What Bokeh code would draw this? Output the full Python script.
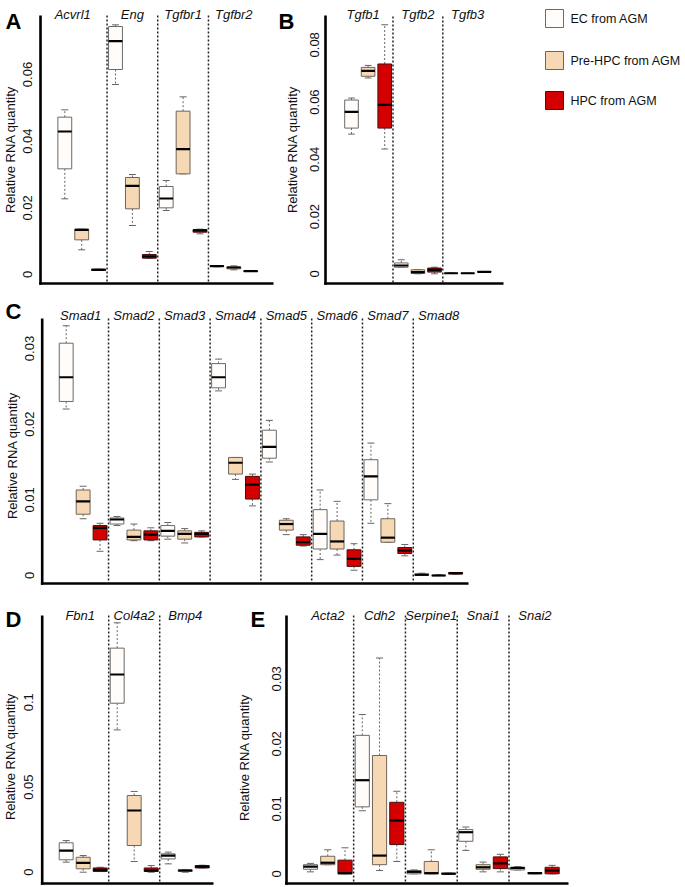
import math
from bokeh.plotting import figure
from bokeh.models import Range1d, ColumnDataSource
from bokeh.core.properties import value
from bokeh.layouts import row, column
from bokeh.embed import file_html
from bokeh.resources import INLINE

# ---------------- data ----------------
GROUPS = ["EC from AGM", "Pre-HPC from AGM", "HPC from AGM"]
Y_TITLE = "Relative RNA quantity"

# each entry: [lower whisker, Q1, median, Q3, upper whisker]
A_genes = ["Acvrl1", "Eng", "Tgfbr1", "Tgfbr2"]
A_ec = [[0.0227, 0.0317, 0.0429, 0.0472, 0.0494],
        [0.0570, 0.0615, 0.0700, 0.0744, 0.0749],
        [0.0192, 0.0200, 0.0228, 0.0264, 0.0282],
        [0.0023, 0.0024, 0.0025, 0.0026, 0.0027]]
A_pre = [[0.0074, 0.0104, 0.0134, 0.0136, 0.0136],
         [0.0147, 0.0197, 0.0266, 0.0291, 0.0300],
         [0.0302, 0.0302, 0.0376, 0.0490, 0.0533],
         [0.0014, 0.0017, 0.0021, 0.0023, 0.0026]]
A_hpc = [[0.0012, 0.0012, 0.0014, 0.0016, 0.0016],
         [0.0049, 0.0049, 0.0054, 0.0060, 0.0069],
         [0.0122, 0.0127, 0.0132, 0.0135, 0.0136],
         [0.0009, 0.0009, 0.0010, 0.0011, 0.0011]]
A_ticks = [0, 0.02, 0.04, 0.06]
A_tick_labels = ["0", "0.02", "0.04", "0.06"]

B_genes = ["Tgfb1", "Tgfb2", "Tgfb3"]
B_ec = [[0.0488, 0.0509, 0.0566, 0.0607, 0.0614],
        [0.0023, 0.0023, 0.0029, 0.0038, 0.0049],
        [0.0001, 0.0001, 0.0002, 0.0002, 0.0003]]
B_pre = [[0.0684, 0.0690, 0.0709, 0.0721, 0.0728],
         [0.0000, 0.0001, 0.0006, 0.0014, 0.0015],
         [0.0001, 0.0001, 0.0002, 0.0002, 0.0002]]
B_hpc = [[0.0436, 0.0509, 0.0590, 0.0733, 0.0870],
         [0.0000, 0.0006, 0.0014, 0.0020, 0.0023],
         [0.0006, 0.0006, 0.0007, 0.0008, 0.0008]]
B_ticks = [0, 0.02, 0.04, 0.06, 0.08]
B_tick_labels = ["0", "0.02", "0.04", "0.06", "0.08"]

C_genes = ["Smad1", "Smad2", "Smad3", "Smad4", "Smad5", "Smad6", "Smad7", "Smad8"]
C_ec = [[0.0220, 0.0230, 0.0262, 0.0307, 0.0330],
        [0.0066, 0.0068, 0.0074, 0.0076, 0.0078],
        [0.0048, 0.0052, 0.0059, 0.0066, 0.0070],
        [0.0244, 0.0248, 0.0262, 0.0280, 0.0286],
        [0.0150, 0.0155, 0.0170, 0.0192, 0.0205],
        [0.0021, 0.0035, 0.0055, 0.0087, 0.0113],
        [0.0069, 0.0100, 0.0131, 0.0153, 0.0175],
        [0.0000, 0.0000, 0.0001, 0.0002, 0.0003]]
C_pre = [[0.0075, 0.0081, 0.0098, 0.0113, 0.0118],
         [0.0046, 0.0047, 0.0051, 0.0060, 0.0068],
         [0.0043, 0.0048, 0.0055, 0.0059, 0.0062],
         [0.0127, 0.0134, 0.0149, 0.0156, 0.0156],
         [0.0054, 0.0060, 0.0068, 0.0073, 0.0075],
         [0.0027, 0.0035, 0.0045, 0.0072, 0.0098],
         [0.0044, 0.0044, 0.0050, 0.0075, 0.0095],
         [0.0000, 0.0000, 0.0000, 0.0000, 0.0001]]
C_hpc = [[0.0032, 0.0047, 0.0063, 0.0066, 0.0069],
         [0.0046, 0.0047, 0.0054, 0.0059, 0.0063],
         [0.0051, 0.0051, 0.0055, 0.0057, 0.0059],
         [0.0092, 0.0101, 0.0120, 0.0131, 0.0134],
         [0.0039, 0.0040, 0.0044, 0.0051, 0.0054],
         [0.0007, 0.0012, 0.0022, 0.0034, 0.0042],
         [0.0026, 0.0029, 0.0033, 0.0037, 0.0041],
         [0.0002, 0.0002, 0.0003, 0.0004, 0.0004]]
C_ticks = [0, 0.01, 0.02, 0.03]
C_tick_labels = ["0", "0.01", "0.02", "0.03"]

D_genes = ["Fbn1", "Col4a2", "Bmp4"]
D_ec = [[0.0059, 0.0073, 0.0127, 0.0173, 0.0186],
        [0.0837, 0.0994, 0.1163, 0.1318, 0.1467],
        [0.0049, 0.0078, 0.0098, 0.0108, 0.0118]]
D_pre = [[0.0000, 0.0020, 0.0055, 0.0088, 0.0098],
         [0.0063, 0.0157, 0.0363, 0.0451, 0.0475],
         [0.0000, 0.0004, 0.0010, 0.0014, 0.0016]]
D_hpc = [[0.0004, 0.0004, 0.0014, 0.0025, 0.0029],
         [0.0000, 0.0004, 0.0010, 0.0025, 0.0039],
         [0.0025, 0.0025, 0.0033, 0.0039, 0.0041]]
D_ticks = [0, 0.05, 0.1]
D_tick_labels = ["0", "0.05", "0.1"]

E_genes = ["Acta2", "Cdh2", "Serpine1", "Snai1", "Snai2"]
E_ec = [[0.0003, 0.0007, 0.0011, 0.0014, 0.0016],
        [0.0097, 0.0103, 0.0144, 0.0213, 0.0245],
        [0.0000, 0.0000, 0.0003, 0.0005, 0.0006],
        [0.0036, 0.0050, 0.0064, 0.0068, 0.0072],
        [0.0006, 0.0006, 0.0009, 0.0010, 0.0011]]
E_pre = [[0.0014, 0.0014, 0.0017, 0.0027, 0.0037],
         [0.0005, 0.0014, 0.0028, 0.0182, 0.0332],
         [0.0000, 0.0000, 0.0001, 0.0019, 0.0037],
         [0.0003, 0.0007, 0.0010, 0.0014, 0.0018],
         [0.0000, 0.0000, 0.0001, 0.0002, 0.0002]]
E_hpc = [[0.0000, 0.0000, 0.0001, 0.0021, 0.0040],
         [0.0019, 0.0045, 0.0082, 0.0110, 0.0127],
         [0.0000, 0.0000, 0.0000, 0.0001, 0.0001],
         [0.0003, 0.0008, 0.0016, 0.0026, 0.0030],
         [0.0000, 0.0000, 0.0005, 0.0010, 0.0013]]
E_ticks = [0, 0.01, 0.02, 0.03]
E_tick_labels = ["0", "0.01", "0.02", "0.03"]

# ---------------- style ----------------
FONT = value("Liberation Sans")
FILLS = ["#FFFCFA", "#F6D9B4", "#D40000"]
OUTLINES = ["#6a6a6a", "#6f6458", "#4a1010"]
WHISKER = "#666666"
TEXT = "#111111"
BOX_W = 0.82
AXIS_W = 2.6


def panel(letter, genes, series, ticks, tick_labels, rect, cal, lay):
    # rect: page position/size of the figure; cal: pixel position of box 1,
    # pixel spacing between boxes, pixel row of value 0, pixels per unit
    fx, fy, W, H = rect
    p1, sp, z, ppu = cal
    xa = 1 - (p1 - fx) / sp
    xb = 1 + (fx + W - p1) / sp
    yb = (z - fy) / ppu
    ya = (z - fy - H) / ppu
    p = figure(width=W, height=H, title=None, output_backend="svg",
               toolbar_location=None, x_range=Range1d(xa, xb),
               y_range=Range1d(ya, yb), x_axis_location=None,
               y_axis_location=None, min_border=0)
    p.outline_line_color = None
    p.grid.visible = False

    def X(px):
        return 1 + (px - p1) / sp

    def Y(py):
        return (z - py) / ppu

    half = AXIS_W / 2
    # L-shaped axis
    p.segment(x0=[X(lay["axis_x"])], y0=[Y(lay["axis_top"])],
              x1=[X(lay["axis_x"])], y1=[Y(lay["base_y"] + half)],
              line_color="black", line_width=AXIS_W)
    p.segment(x0=[X(lay["axis_x"] - half)], y0=[Y(lay["base_y"])],
              x1=[X(lay["right"])], y1=[Y(lay["base_y"])],
              line_color="black", line_width=AXIS_W)
    # tick labels
    p.text(x=[X(lay["tick_x"])] * len(ticks), y=ticks, text=tick_labels,
           angle=math.pi / 2, text_align="center", text_baseline="middle",
           text_font=FONT, text_font_size="13px", text_color=TEXT)

    n = len(genes)
    # dividers
    divs = [3 * i + 0.5 for i in range(1, n)]
    p.segment(x0=divs, x1=divs, y0=[Y(lay["div_top"])] * len(divs),
              y1=[Y(lay["base_y"])] * len(divs), line_color="#222222",
              line_width=1.5, line_dash="2 2")

    for k, data in enumerate(series):
        xs = [3 * i + k + 1 for i in range(n)]
        src = ColumnDataSource(dict(
            x=xs,
            lo=[d[0] for d in data], q1=[d[1] for d in data],
            med=[d[2] for d in data], q3=[d[3] for d in data],
            hi=[d[4] for d in data],
            bl=[x - BOX_W / 2 for x in xs], br=[x + BOX_W / 2 for x in xs],
            cl=[x - BOX_W / 4 for x in xs], cr=[x + BOX_W / 4 for x in xs],
        ))
        p.segment(x0="x", y0="q3", x1="x", y1="hi", source=src,
                  line_color=WHISKER, line_width=1, line_dash="2 2")
        p.segment(x0="x", y0="q1", x1="x", y1="lo", source=src,
                  line_color=WHISKER, line_width=1, line_dash="2 2")
        p.segment(x0="cl", y0="hi", x1="cr", y1="hi", source=src,
                  line_color=WHISKER, line_width=1)
        p.segment(x0="cl", y0="lo", x1="cr", y1="lo", source=src,
                  line_color=WHISKER, line_width=1)
        p.vbar(x="x", width=BOX_W, bottom="q1", top="q3", source=src,
               fill_color=FILLS[k], line_color=OUTLINES[k], line_width=1)
        p.segment(x0="bl", y0="med", x1="br", y1="med", source=src,
                  line_color="black", line_width=2.2)

    # gene names (first label sits a little left of its group, as in the original)
    gx = [3 * i + 2 for i in range(n)]
    gx[0] += lay.get("first_dx", 0) / sp
    p.text(x=gx, y=[Y(lay["gene_y"])] * n,
           text=genes, text_align="center", text_baseline="alphabetic",
           text_font=FONT, text_font_size="13px", text_font_style="italic",
           text_color=TEXT)
    # panel letter
    p.text(x=[X(lay["letter"][0])], y=[Y(lay["letter"][1])], text=[letter],
           text_align="left", text_baseline="alphabetic", text_font=FONT,
           text_font_size="22px", text_font_style="bold", text_color="black")
    # y title
    p.text(x=[X(lay["title"][0])], y=[Y(lay["title"][1])], text=[Y_TITLE],
           angle=math.pi / 2, text_align="center", text_baseline="middle",
           text_font=FONT, text_font_size="13px", text_color=TEXT)
    return p


pA = panel("A", A_genes, [A_ec, A_pre, A_hpc], A_ticks, A_tick_labels,
           (0, 0, 278, 293), (64.3, 16.9, 274.0, 3333.3),
           dict(letter=(5, 20.5), title=(10, 149), tick_x=27, axis_x=40,
                axis_top=15, base_y=283, right=273, gene_y=13.5, div_top=15,
                first_dx=-9))
pB = panel("B", B_genes, [B_ec, B_pre, B_hpc], B_ticks, B_tick_labels,
           (278, 0, 250, 293), (351.0, 16.6, 273.3, 2862.5),
           dict(letter=(278, 20.5), title=(292, 149), tick_x=313.7, axis_x=325,
                axis_top=15, base_y=283, right=503, gene_y=13.5, div_top=16,
                first_dx=-5))

# legend panel (coordinates in page pixels)
LX0, LY0, LW, LH = 528, 0, 156, 293
pL = figure(width=LW, height=LH, title=None, output_backend="svg",
            toolbar_location=None, x_range=Range1d(LX0, LX0 + LW),
            y_range=Range1d(LY0 + LH, LY0), x_axis_location=None,
            y_axis_location=None, min_border=0)
pL.grid.visible = False
pL.outline_line_color = None
leg_y = [18, 60, 100]
pL.rect(x=[554] * 3, y=leg_y, width=18, height=18, fill_color=FILLS,
        line_color=OUTLINES, line_width=1)
pL.text(x=[570] * 3, y=leg_y, text=GROUPS, text_align="left",
        text_baseline="middle", text_font=FONT, text_font_size="12.5px",
        text_color=TEXT)

pC = panel("C", C_genes, [C_ec, C_pre, C_hpc], C_ticks, C_tick_labels,
           (0, 293, 684, 300), (65.7, 16.93, 575.0, 7567.0),
           dict(letter=(5, 310.5), title=(11.5, 455), tick_x=29, axis_x=41.7,
                axis_top=318, base_y=583, right=468, gene_y=315, div_top=318,
                first_dx=-2.5))
pD = panel("D", D_genes, [D_ec, D_pre, D_hpc], D_ticks, D_tick_labels,
           (0, 593, 232, 293), (65.7, 17.0, 871.7, 1700.0),
           dict(letter=(5, 619), title=(10, 756), tick_x=27.5, axis_x=41.7,
                axis_top=615, base_y=883, right=213, gene_y=615, div_top=615,
                first_dx=-3))
pE = panel("E", E_genes, [E_ec, E_pre, E_hpc], E_ticks, E_tick_labels,
           (232, 593, 452, 293), (310.0, 17.26, 873.3, 6500.0),
           dict(letter=(250, 619), title=(243.5, 757), tick_x=275.5, axis_x=286,
                axis_top=615, base_y=883, right=568, gene_y=615, div_top=615))

layout = column(row(pA, pB, pL), pC, row(pD, pE))
open("out.html", "w").write(file_html(layout, INLINE))
